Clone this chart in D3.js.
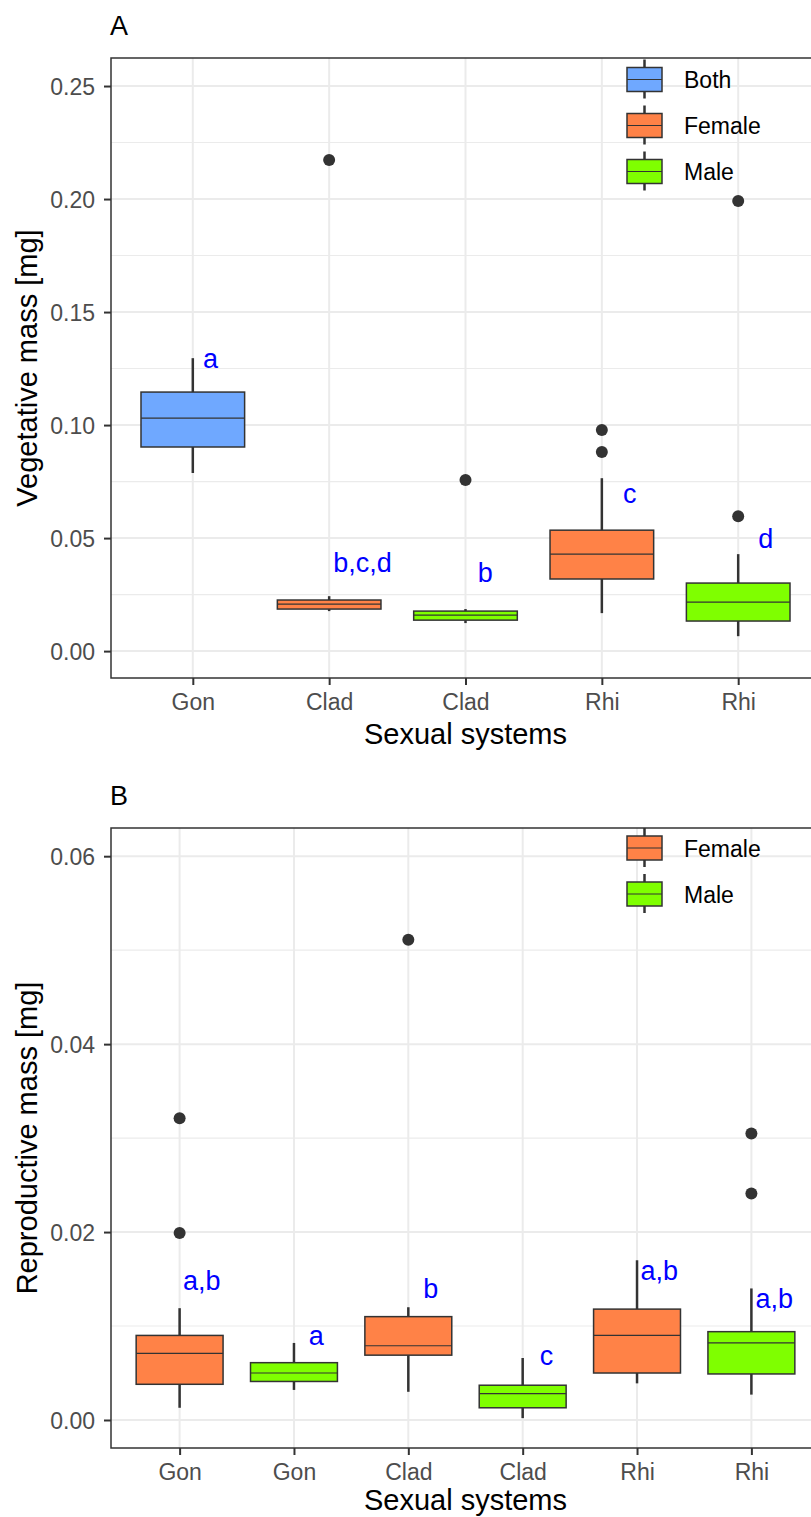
<!DOCTYPE html>
<html>
<head>
<meta charset="utf-8">
<script src="https://cdn.jsdelivr.net/npm/d3@7"></script>
<style>
  body { margin: 0; background: #fff; }
  text { font-family: "Liberation Sans", Arial, sans-serif; }
</style>
</head>
<body>
<div id="chart"></div>
<script>
// panel A : vegetative mass
var catsA = ["Gon", "Clad", "Clad", "Rhi", "Rhi"];
var sexA = ["Both", "Female", "Male", "Female", "Male"];
// [lower whisker, q1, median, q3, upper whisker]
var statsA = [
  [0.0788, 0.0903, 0.1031, 0.1146, 0.1296],
  [0.0177, 0.0186, 0.0208, 0.0226, 0.0243],
  [0.0124, 0.0137, 0.0159, 0.0177, 0.0186],
  [0.0168, 0.0319, 0.0429, 0.0535, 0.0765],
  [0.0066, 0.0133, 0.0217, 0.0301, 0.0429]
];
var outliersA = [[], [0.2173], [0.0757], [0.0978, 0.0881], [0.0597, 0.1991]];
var lettersA = ["a", "b,c,d", "b", "c", "d"];
var letterValA = [0.1252, 0.0350, 0.0305, 0.0655, 0.0456];
var letterNudgeA = [0.075, 0.03, 0.09, 0.155, 0.147];
var yTicksA = [0, 0.05, 0.10, 0.15, 0.20, 0.25];
var legendA = ["Both", "Female", "Male"];

// panel B : reproductive mass
var catsB = ["Gon", "Gon", "Clad", "Clad", "Rhi", "Rhi"];
var sexB = ["Female", "Male", "Female", "Male", "Female", "Male"];
var statsB = [
  [0.0013, 0.0038, 0.0071, 0.0090, 0.0119],
  [0.0032, 0.0041, 0.0050, 0.0061, 0.0082],
  [0.0030, 0.0069, 0.0079, 0.0110, 0.0120],
  [0.0002, 0.0013, 0.0028, 0.0037, 0.0066],
  [0.0039, 0.0050, 0.0090, 0.0118, 0.0170],
  [0.0027, 0.0049, 0.0082, 0.0094, 0.0140]
];
var outliersB = [[0.0321, 0.0199], [], [0.0511], [], [], [0.0305, 0.0241]];
var lettersB = ["a,b", "a", "b", "c", "a,b", "a,b"];
var letterValB = [0.0138, 0.0080, 0.0130, 0.0059, 0.0149, 0.0119];
var letterNudgeB = [0.03, 0.13, 0.13, 0.15, 0.03, 0.035];
var yTicksB = [0, 0.02, 0.04, 0.06];
var legendB = ["Female", "Male"];

var fillColour = { Both: "#6fa8ff", Female: "#ff8247", Male: "#7fff00" };

var svg = d3.select("#chart").append("svg")
  .attr("width", 811)
  .attr("height", 1517)
  .style("display", "block");

svg.append("rect").attr("width", 811).attr("height", 1517).attr("fill", "#fff");

function DrawPanel(p)
{
  var left = 111, right = 820;
  var n = p.cats.length;
  var x = d3.scaleLinear().domain([-0.6, n - 1 + 0.6]).range([left, right]);
  var y = d3.scaleLinear().domain(p.ydomain).range([p.bottom, p.top]);
  var step = x(1) - x(0);
  var bw = step * 0.76;
  var g = svg.append("g");

  // grid
  var minor = [];
  for (var i = 0; i < p.yticks.length - 1; i++) minor.push((p.yticks[i] + p.yticks[i + 1]) / 2);
  g.append("g").selectAll("line").data(minor).enter().append("line")
    .attr("x1", left).attr("x2", right)
    .attr("y1", function(d) { return y(d); }).attr("y2", function(d) { return y(d); })
    .attr("stroke", "#ebebeb").attr("stroke-width", 1.1);
  g.append("g").selectAll("line").data(p.yticks).enter().append("line")
    .attr("x1", left).attr("x2", right)
    .attr("y1", function(d) { return y(d); }).attr("y2", function(d) { return y(d); })
    .attr("stroke", "#ebebeb").attr("stroke-width", 2);
  g.append("g").selectAll("line").data(d3.range(n)).enter().append("line")
    .attr("x1", function(d) { return x(d); }).attr("x2", function(d) { return x(d); })
    .attr("y1", p.top).attr("y2", p.bottom)
    .attr("stroke", "#ebebeb").attr("stroke-width", 2);

  // legend (inside panel, top right)
  var lg = g.append("g");
  p.legend.forEach(function(name, k) {
    var cy = p.legendTop + k * 46;
    lg.append("line").attr("x1", 644.5).attr("x2", 644.5)
      .attr("y1", Math.max(cy - 20, p.top)).attr("y2", cy + 19)
      .attr("stroke", "#333").attr("stroke-width", 2.5);
    lg.append("rect").attr("x", 627).attr("y", cy - 12).attr("width", 35).attr("height", 24)
      .attr("fill", fillColour[name]).attr("stroke", "#333").attr("stroke-width", 1.5);
    lg.append("line").attr("x1", 627).attr("x2", 662).attr("y1", cy).attr("y2", cy)
      .attr("stroke", "#333").attr("stroke-width", 1.2);
    lg.append("text").attr("x", 684).attr("y", cy + 8.5).attr("font-size", 23)
      .attr("fill", "#000").text(name);
  });

  // boxes
  var box = g.append("g").selectAll("g").data(p.stats).enter().append("g");
  box.append("line")
    .attr("x1", function(d, i) { return x(i); }).attr("x2", function(d, i) { return x(i); })
    .attr("y1", function(d) { return y(d[4]); }).attr("y2", function(d) { return y(d[3]); })
    .attr("stroke", "#333").attr("stroke-width", 2.5);
  box.append("line")
    .attr("x1", function(d, i) { return x(i); }).attr("x2", function(d, i) { return x(i); })
    .attr("y1", function(d) { return y(d[1]); }).attr("y2", function(d) { return y(d[0]); })
    .attr("stroke", "#333").attr("stroke-width", 2.5);
  box.append("rect")
    .attr("x", function(d, i) { return x(i) - bw / 2; })
    .attr("width", bw)
    .attr("y", function(d) { return y(d[3]); })
    .attr("height", function(d) { return y(d[1]) - y(d[3]); })
    .attr("fill", function(d, i) { return fillColour[p.sex[i]]; })
    .attr("stroke", "#333").attr("stroke-width", 1.5);
  box.append("line")
    .attr("x1", function(d, i) { return x(i) - bw / 2; }).attr("x2", function(d, i) { return x(i) + bw / 2; })
    .attr("y1", function(d) { return y(d[2]); }).attr("y2", function(d) { return y(d[2]); })
    .attr("stroke", "#333").attr("stroke-width", 1.2);

  // outliers
  var pts = [];
  p.outliers.forEach(function(arr, i) { arr.forEach(function(v) { pts.push([i, v]); }); });
  g.append("g").selectAll("circle").data(pts).enter().append("circle")
    .attr("cx", function(d) { return x(d[0]); })
    .attr("cy", function(d) { return y(d[1]); })
    .attr("r", 6).attr("fill", "#333");

  // significance letters
  g.append("g").selectAll("text").data(p.letters).enter().append("text")
    .attr("x", function(d, i) { return x(i + p.nudge[i]); })
    .attr("y", function(d, i) { return y(p.letterVal[i]); })
    .attr("font-size", 27).attr("fill", "#0000ff")
    .text(function(d) { return d; });

  // panel border
  g.append("rect").attr("x", left).attr("y", p.top).attr("width", right - left).attr("height", p.bottom - p.top)
    .attr("fill", "none").attr("stroke", "#333").attr("stroke-width", 1.5);

  // axes
  var ya = g.append("g").attr("transform", "translate(" + left + ",0)")
    .call(d3.axisLeft(y).tickValues(p.yticks).tickFormat(d3.format(".2f")).tickSize(7).tickPadding(9));
  var xa = g.append("g").attr("transform", "translate(0," + p.bottom + ")")
    .call(d3.axisBottom(x).tickValues(d3.range(n)).tickFormat(function(i) { return p.cats[i]; }).tickSize(7).tickPadding(8));
  [ya, xa].forEach(function(a) {
    a.select(".domain").remove();
    a.selectAll(".tick line").attr("stroke", "#333").attr("stroke-width", 2);
    a.selectAll(".tick text").attr("fill", "#4d4d4d").attr("font-size", 23)
      .attr("font-family", "Liberation Sans, Arial, sans-serif");
  });
  ya.selectAll(".tick text").attr("dy", "0.36em");
  xa.selectAll(".tick text").attr("dy", "0.72em");

  // titles
  g.append("text").attr("x", (left + right) / 2).attr("y", p.bottom + p.xtitleGap)
    .attr("text-anchor", "middle").attr("font-size", 29).text("Sexual systems");
  g.append("text").attr("transform", "translate(37," + (p.top + p.bottom) / 2 + ") rotate(-90)")
    .attr("text-anchor", "middle").attr("font-size", 29).text(p.ytitle);
  g.append("text").attr("x", 110).attr("y", p.top - 23).attr("font-size", 27).text(p.tag);
}

DrawPanel({
  tag: "A", cats: catsA, sex: sexA, stats: statsA, outliers: outliersA,
  letters: lettersA, letterVal: letterValA, nudge: letterNudgeA,
  yticks: yTicksA, legend: legendA, ytitle: "Vegetative mass [mg]",
  top: 58, bottom: 678, ydomain: [-0.0119, 0.2624], legendTop: 79.5, xtitleGap: 66
});

DrawPanel({
  tag: "B", cats: catsB, sex: sexB, stats: statsB, outliers: outliersB,
  letters: lettersB, letterVal: letterValB, nudge: letterNudgeB,
  yticks: yTicksB, legend: legendB, ytitle: "Reproductive mass [mg]",
  top: 828, bottom: 1448, ydomain: [-0.00298, 0.0630], legendTop: 848, xtitleGap: 62
});
</script>
</body>
</html>
